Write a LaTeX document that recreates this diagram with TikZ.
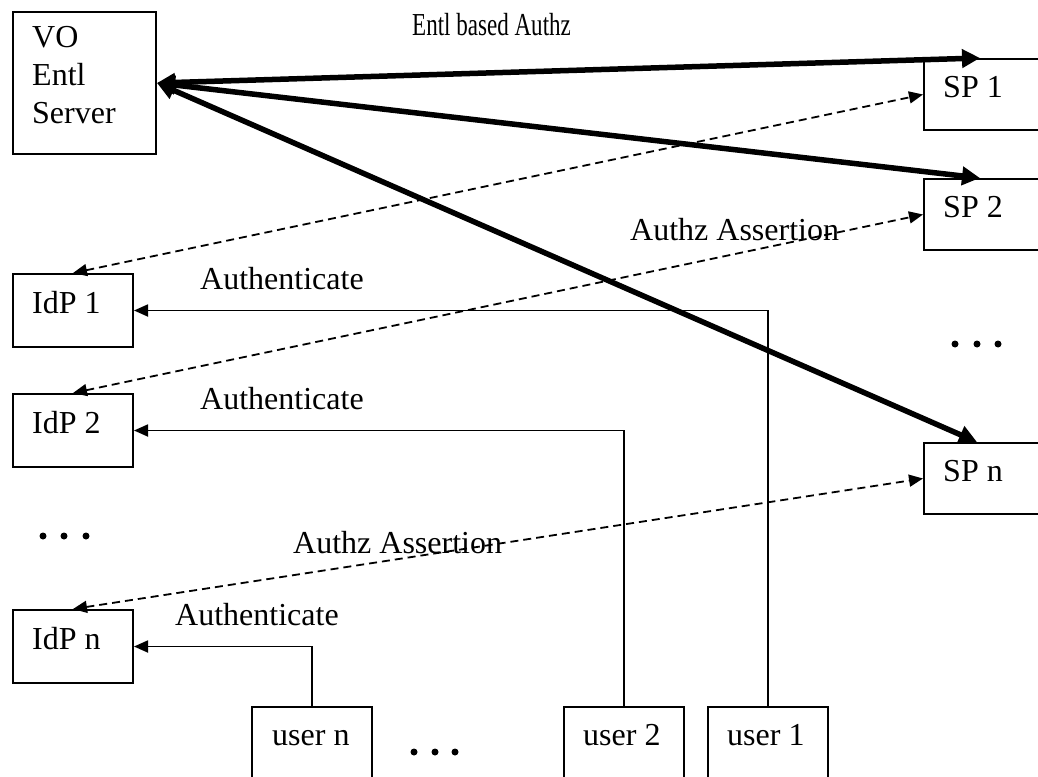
\documentclass[tikz,border=0pt]{standalone}
\usepackage{fontspec}
\setmainfont{Liberation Serif}
\usepackage{graphicx}
\usetikzlibrary{arrows.meta,calc}
\begin{document}
\begin{tikzpicture}[x=1pt,y=-1pt,
  box/.style={draw,line width=2pt,rectangle,inner sep=0pt,anchor=north west},
  lbl/.style={inner sep=0pt,anchor=base west,font=\fontsize{32}{38}\selectfont},
  authn/.style={line width=1.8pt,-{Triangle[length=14pt,width=12pt]}},
  assert/.style={line width=1.8pt,dash pattern=on 8pt off 5pt,
    {Triangle[length=14pt,width=12pt]}-{Triangle[length=14pt,width=12pt]}},
  entl/.style={line width=5.5pt,
    {Triangle[length=18pt,width=18pt]}-{Triangle[length=18pt,width=18pt]}},
  dot/.style={circle,fill,inner sep=0pt,minimum size=7pt}
]
\clip (0,0) rectangle (1038,776);

% entitlement server
\node[box,minimum width=143pt,minimum height=142pt] (vo) at (12,11) {};
\node[lbl] (vo1) at ($(vo.north west)+(20,37)$) {VO};
\node[lbl] (vo2) at ($(vo.north west)+(20,74)$) {Entl};
\node[lbl] (vo3) at ($(vo.north west)+(20,112)$) {Server};

% service providers
\node[box,minimum width=150pt,minimum height=71pt] (sp1) at (923,58) {};
\node[box,minimum width=150pt,minimum height=71pt] (sp2) at (923,178) {};
\node[box,minimum width=150pt,minimum height=71pt] (spn) at (923,442) {};
\node[lbl] (tsp1) at ($(sp1.north west)+(20,39)$) {SP 1};
\node[lbl] (tsp2) at ($(sp2.north west)+(20,39)$) {SP 2};
\node[lbl] (tspn) at ($(spn.north west)+(20,39)$) {SP n};

% identity providers
\node[box,minimum width=120pt,minimum height=73pt] (idp1) at (12,273) {};
\node[box,minimum width=120pt,minimum height=73pt] (idp2) at (12,393) {};
\node[box,minimum width=120pt,minimum height=73pt] (idpn) at (12,609) {};
\node[lbl] (tidp1) at ($(idp1.north west)+(20,40)$) {IdP 1};
\node[lbl] (tidp2) at ($(idp2.north west)+(20,40)$) {IdP 2};
\node[lbl] (tidpn) at ($(idpn.north west)+(20,40)$) {IdP n};

% users
\node[box,minimum width=120pt,minimum height=100pt] (usern) at (251,706) {};
\node[box,minimum width=120pt,minimum height=100pt] (user2) at (563,706) {};
\node[box,minimum width=120pt,minimum height=100pt] (user1) at (707,706) {};
\node[lbl] (tusern) at ($(usern.north west)+(21,39)$) {user n};
\node[lbl] (tuser2) at ($(user2.north west)+(20,39)$) {user 2};
\node[lbl] (tuser1) at ($(user1.north west)+(20,39)$) {user 1};

% authentication paths
\draw[authn] (user1.north) |- (idp1.east);
\draw[authn] (user2.north) |- (idp2.east);
\draw[authn] (usern.north) |- (idpn.east);
\node[lbl] (la1) at (200,289) {Authenticate};
\node[lbl] (la2) at (200,409) {Authenticate};
\node[lbl] (la3) at (175,625) {Authenticate};

% authorization assertions
\draw[assert] (idp1.north) -- (sp1.west);
\draw[assert] (idp2.north) -- (sp2.west);
\draw[assert] (idpn.north) -- (spn.west);
\node[lbl] (lz1) at (630,240) {Authz Assertion};
\node[lbl] (lz2) at (293,553) {Authz Assertion};

% entitlement based authorization
\draw[entl] (vo.east) -- ($(sp1.north west)+(57,0)$);
\draw[entl] (vo.east) -- ($(sp2.north west)+(57,0)$);
\draw[entl] (vo.east) -- ($(spn.north west)+(54,0)$);
\node[lbl] (le) at (412,36) {\scalebox{0.72}[1]{Entl based Authz}};

% ellipses
\foreach \x in {43,64,86} \node[dot] at (\x,536) {};
\foreach \x in {955,977,998} \node[dot] at (\x,344) {};
\foreach \x in {414,435,455} \node[dot] at (\x,752) {};
\end{tikzpicture}
\end{document}
